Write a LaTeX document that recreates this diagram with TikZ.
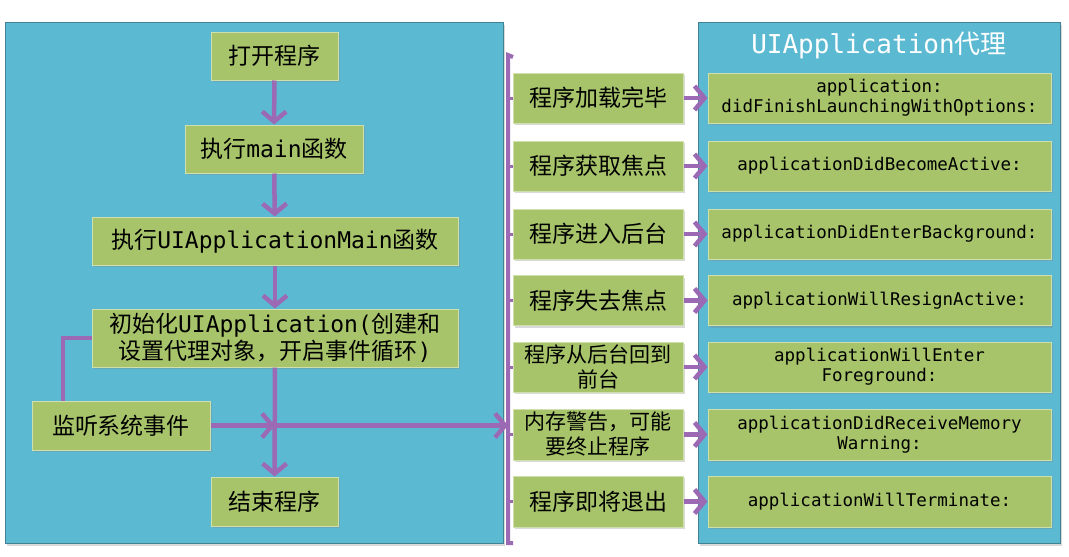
\documentclass[tikz,border=0pt]{standalone}
\usepackage{fontspec}
\setmainfont{Noto Sans CJK SC}
\setmonofont{DejaVu Sans Mono}
\usetikzlibrary{positioning,arrows.meta,shadows}
\definecolor{panelblue}{RGB}{91,185,210}
\definecolor{boxgreen}{RGB}{167,196,106}
\definecolor{flowpurple}{RGB}{156,106,180}

\begin{document}
\begin{tikzpicture}[x=1pt,y=-1pt,
  panel/.style={fill=panelblue,draw=panelblue!70!black,line width=0.8pt,
    drop shadow={shadow xshift=2pt,shadow yshift=-3pt,opacity=0.3}},
  box/.style={fill=boxgreen,draw=boxgreen!55!white,line width=1pt,
    inner sep=0pt,align=center,
    drop shadow={shadow xshift=1.5pt,shadow yshift=-2pt,opacity=0.3}},
  big/.style={box,font=\fontsize{23}{27}\selectfont},
  small/.style={box,font=\fontsize{21}{25}\selectfont},
  method/.style={box,font=\fontsize{17.5}{20}\selectfont\ttfamily,
    minimum width=343pt,minimum height=50pt},
  flow/.style={draw=flowpurple,line width=4.5pt,
    -{Straight Barb[length=10pt,width=24pt]}},
  link/.style={draw=flowpurple,line width=4.5pt}]
  \useasboundingbox (0,0) rectangle (1069,557);
  % two panels
  \filldraw[panel] (5,22) rectangle (503,543);
  \filldraw[panel] (698,22) rectangle (1060,543);
  \node[text=white,font=\fontsize{26}{30}\selectfont] (title) at (879,45)
    {\texttt{UIApplication}代理};

  % life cycle
  \node[big,minimum width=127pt,minimum height=48pt] (open) at (274.5,56) {打开程序};
  \node[big,minimum width=178pt,minimum height=48pt] (main) at (274,149) {执行\texttt{main}函数};
  \node[big,minimum width=366pt,minimum height=48pt] (uimain) at (275,241)
    {执行\texttt{UIApplicationMain}函数};
  \node[big,minimum width=366pt,minimum height=58pt] (init) at (275,338)
    {初始化\texttt{UIApplication(}创建和\\设置代理对象，开启事件循环\texttt{)}};
  \node[big,minimum width=178pt,minimum height=49pt] (listen) at (121,425.5) {监听系统事件};
  \node[big,minimum width=127pt,minimum height=49pt] (finish) at (274.5,501.5) {结束程序};
  \coordinate (junc) at (init |- listen);
  \coordinate (bustop) at (508,55);
  \coordinate (busbot) at (508,543);

  % events
  \node[big,minimum width=170pt,minimum height=50pt] (load) at (598,98) {程序加载完毕};
  \node[big,minimum width=170pt,minimum height=50pt] (active) at (598,166) {程序获取焦点};
  \node[big,minimum width=170pt,minimum height=50pt] (back) at (598,234) {程序进入后台};
  \node[big,minimum width=170pt,minimum height=50pt] (resign) at (598,300.5) {程序失去焦点};
  \node[small,minimum width=170pt,minimum height=50pt] (fore) at (598,367) {程序从后台回到\\前台};
  \node[small,minimum width=170pt,minimum height=51pt] (memory) at (598,434.5) {内存警告，可能\\要终止程序};
  \node[big,minimum width=170pt,minimum height=51pt] (quit) at (598,501.5) {程序即将退出};

  % delegate methods
  \node[method] (dload) at (879.5,98) {application:\\didFinishLaunchingWithOptions:};
  \node[method] (dactive) at (879.5,166) {applicationDidBecomeActive:};
  \node[method] (dback) at (879.5,234) {applicationDidEnterBackground:};
  \node[method] (dresign) at (879.5,300.5) {applicationWillResignActive:};
  \node[method] (dfore) at (879.5,367) {applicationWillEnter\\Foreground:};
  \node[method,minimum height=51pt] (dmemory) at (879.5,434.5) {applicationDidReceiveMemory\\Warning:};
  \node[method,minimum height=51pt] (dquit) at (879.5,501.5) {applicationWillTerminate:};

  \draw[flow] (open) -- (main);
  \draw[flow] (main) -- (uimain);
  \draw[flow] (uimain) -- (init);
  \draw[flow] (init) -- (finish);
  \draw[link] (init.west) -| ([xshift=-58pt]listen.north);
  \draw[flow] (listen) -- (junc);
  \draw[flow] (junc) -- (junc -| bustop);
  \draw[link,line width=4pt] ([xshift=5pt,yshift=-2pt]bustop) -- (bustop) -- (busbot)
    -- ([xshift=5pt]busbot);
  \draw[link,line width=3pt] (load.west -| bustop) -- (load.west);
  \draw[link,line width=3pt] (active.west -| bustop) -- (active.west);
  \draw[link,line width=3pt] (back.west -| bustop) -- (back.west);
  \draw[link,line width=3pt] (resign.west -| bustop) -- (resign.west);
  \draw[link,line width=3pt] (fore.west -| bustop) -- (fore.west);
  \draw[link,line width=3pt] (memory.west -| bustop) -- (memory.west);
  \draw[link,line width=3pt] (quit.west -| bustop) -- (quit.west);
  \draw[flow] (load) -- (dload);
  \draw[flow] (active) -- (dactive);
  \draw[flow] (back) -- (dback);
  \draw[flow] (resign) -- (dresign);
  \draw[flow] (fore) -- (dfore);
  \draw[flow] (memory) -- (dmemory);
  \draw[flow] (quit) -- (dquit);
\end{tikzpicture}
\end{document}
